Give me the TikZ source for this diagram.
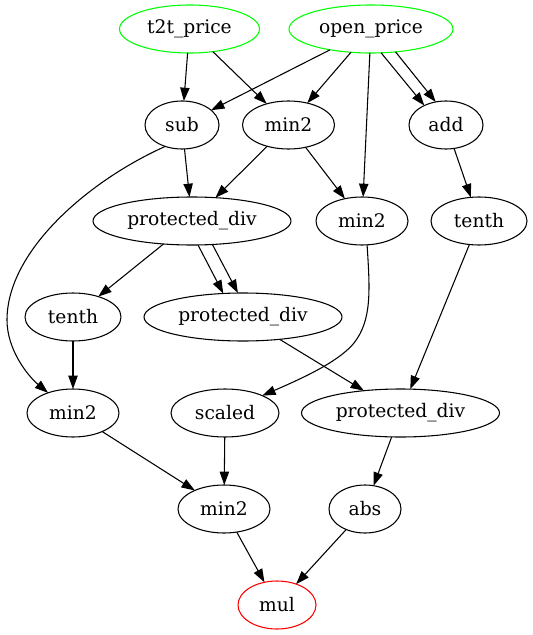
\documentclass[tikz,border=0pt]{standalone}
\usepackage{fontspec}
\setmainfont{DejaVu Serif}
\usetikzlibrary{arrows.meta,shapes.geometric}
\definecolor{gvgreen}{RGB}{0,255,0}
\definecolor{gvred}{RGB}{255,0,0}
\begin{document}
\begin{tikzpicture}[x=0.75pt,y=-0.75pt,
  gnode/.style={ellipse,draw,line width=0.8pt,inner sep=0pt,outer sep=0pt,minimum height=36pt,font=\fontsize{14pt}{16pt}\selectfont},
  edge/.style={line width=0.8pt,-{Triangle[length=10pt,width=7pt]}},
  greennode/.style={gnode,draw=gvgreen},
  rednode/.style={gnode,draw=gvred}]
\useasboundingbox (0,0) rectangle (532,635);
% nodes
\node[greennode,minimum width=105pt] (t2t) at (189.5,29) {t2t\_price};
\node[greennode,minimum width=123pt] (op) at (371,29) {open\_price};
\node[gnode,minimum width=55.5pt] (sub) at (182,125) {sub};
\node[gnode,minimum width=69pt] (m2a) at (288.5,125) {min2};
\node[gnode,minimum width=55.5pt] (add) at (446,125) {add};
\node[gnode,minimum width=148.5pt] (pd1) at (192,221) {protected\_div};
\node[gnode,minimum width=69pt] (m2b) at (362,221) {min2};
\node[gnode,minimum width=72pt] (tr) at (479,221) {tenth};
\node[gnode,minimum width=72pt] (tl) at (73,317) {tenth};
\node[gnode,minimum width=148.5pt] (pd2) at (243,317) {protected\_div};
\node[gnode,minimum width=69pt] (m2l) at (73,413) {min2};
\node[gnode,minimum width=81pt] (sc) at (225,413) {scaled};
\node[gnode,minimum width=148.5pt] (pd3) at (400.5,413) {protected\_div};
\node[gnode,minimum width=69pt] (m2c) at (224,509) {min2};
\node[gnode,minimum width=54pt] (abs) at (365,509) {abs};
\node[rednode,minimum width=58.5pt] (mul) at (277,605) {mul};
% edges
\draw[edge] (t2t) -- (sub);
\draw[edge] (t2t) -- (m2a);
\draw[edge] (op) -- (sub);
\draw[edge] (op) -- (m2a);
\draw[edge] (op) -- (m2b);
\draw[edge] (op.-67) -- (add.138);
\draw[edge] (op.-43) -- (add.114);
\draw[edge] (sub) -- (pd1);
\draw[edge] (m2a) -- (pd1);
\draw[edge] (m2a) -- (m2b);
\draw[edge] (add) -- (tr);
\draw[edge] (sub.-128) .. controls (90,180) and (7,250) .. (7,320)
  .. controls (7,350) and (28,376) .. (m2l.141);
\draw[edge] (pd1) -- (tl);
\draw[edge] (pd1.-76) -- (pd2.130);
\draw[edge] (pd1.-49) -- (pd2.102);
\draw[edge] (m2b.-78) .. controls (370,290) and (372,320) .. (354,343)
  .. controls (340,360) and (310,375) .. (sc.25);
\draw[edge] (tr) -- (pd3);
\draw[edge] (pd2) -- (pd3);
\draw[edge] (tl) -- (m2l);
\draw[edge] (m2l) -- (m2c);
\draw[edge] (sc) -- (m2c);
\draw[edge] (pd3) -- (abs);
\draw[edge] (m2c) -- (mul);
\draw[edge] (abs) -- (mul);
\end{tikzpicture}
\end{document}
